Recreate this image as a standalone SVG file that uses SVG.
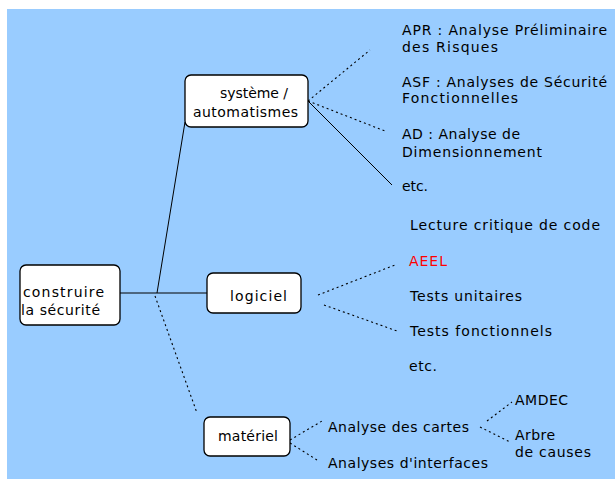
<svg xmlns="http://www.w3.org/2000/svg" width="615" height="479" viewBox="0 0 615 479">
<style>
text{font-family:"DejaVu Sans","Liberation Sans",sans-serif;font-size:14px;fill:#000}
.box{fill:#fff;stroke:#000;stroke-width:1.3}
.s{stroke:#000;stroke-width:1;fill:none}
.d{stroke:#000;stroke-width:1.1;fill:none;stroke-dasharray:2 3}
.red{fill:#ff0000}
</style>
<rect x="0" y="0" width="615" height="479" fill="#fff"/>
<rect x="7" y="9" width="608" height="470" fill="#99ccff"/>
<g id="connectors">
<line class="s" x1="120" y1="293" x2="207" y2="293"/>
<line class="s" x1="157" y1="293" x2="185" y2="122"/>
<line class="d" x1="155" y1="296" x2="197" y2="413"/>
<line class="d" x1="308" y1="101" x2="370" y2="50"/>
<line class="d" x1="308" y1="101" x2="385" y2="131"/>
<line class="s" x1="308" y1="101" x2="392" y2="185"/>
<line class="d" x1="318" y1="295" x2="395" y2="265"/>
<line class="d" x1="324" y1="305" x2="397" y2="331"/>
<line class="d" x1="290" y1="440" x2="322" y2="421"/>
<line class="d" x1="290" y1="443" x2="317" y2="460"/>
<line class="d" x1="487" y1="421" x2="512" y2="402"/>
<line class="d" x1="480" y1="427" x2="510" y2="442"/>
</g>
<g id="node-construire">
<rect class="box" x="20" y="265" width="100" height="60" rx="6"/>
<text x="23" y="297" textLength="81" lengthAdjust="spacing">construire</text>
<text x="21" y="315" textLength="79" lengthAdjust="spacing">la sécurité</text>
</g>
<g id="node-systeme">
<rect class="box" x="185" y="75" width="123" height="52" rx="6"/>
<text x="220" y="98" textLength="68" lengthAdjust="spacing">système /</text>
<text x="193" y="117" textLength="105" lengthAdjust="spacing">automatismes</text>
</g>
<g id="node-logiciel">
<rect class="box" x="207" y="273" width="94" height="40" rx="6"/>
<text x="230" y="301" textLength="57" lengthAdjust="spacing">logiciel</text>
</g>
<g id="node-materiel">
<rect class="box" x="204" y="417" width="86" height="39" rx="6"/>
<text x="218" y="441" textLength="60" lengthAdjust="spacing">matériel</text>
</g>
<g id="node-apr">
<text x="402" y="35" textLength="205" lengthAdjust="spacing">APR : Analyse Préliminaire</text>
<text x="402" y="52" textLength="96" lengthAdjust="spacing">des Risques</text>
</g>
<g id="node-asf">
<text x="402" y="87" textLength="205" lengthAdjust="spacing">ASF : Analyses de Sécurité</text>
<text x="402" y="103" textLength="116" lengthAdjust="spacing">Fonctionnelles</text>
</g>
<g id="node-ad">
<text x="402" y="139" textLength="118" lengthAdjust="spacing">AD : Analyse de</text>
<text x="402" y="157" textLength="140" lengthAdjust="spacing">Dimensionnement</text>
</g>
<g id="node-etc1">
<text x="402" y="191" textLength="26" lengthAdjust="spacing">etc.</text>
</g>
<g id="node-lecture">
<text x="410" y="230" textLength="190" lengthAdjust="spacing">Lecture critique de code</text>
</g>
<g id="node-aeel">
<text class="red" x="409" y="266" textLength="38" lengthAdjust="spacing">AEEL</text>
</g>
<g id="node-tu">
<text x="410" y="301" textLength="112" lengthAdjust="spacing">Tests unitaires</text>
</g>
<g id="node-tf">
<text x="410" y="336" textLength="142" lengthAdjust="spacing">Tests fonctionnels</text>
</g>
<g id="node-etc2">
<text x="409" y="371" textLength="28" lengthAdjust="spacing">etc.</text>
</g>
<g id="node-cartes">
<text x="328" y="432" textLength="141" lengthAdjust="spacing">Analyse des cartes</text>
</g>
<g id="node-interfaces">
<text x="328" y="468" textLength="160" lengthAdjust="spacing">Analyses d'interfaces</text>
</g>
<g id="node-amdec">
<text x="515" y="405" textLength="53" lengthAdjust="spacing">AMDEC</text>
</g>
<g id="node-arbre">
<text x="515" y="440" textLength="40" lengthAdjust="spacing">Arbre</text>
<text x="515" y="457" textLength="76" lengthAdjust="spacing">de causes</text>
</g>
</svg>
